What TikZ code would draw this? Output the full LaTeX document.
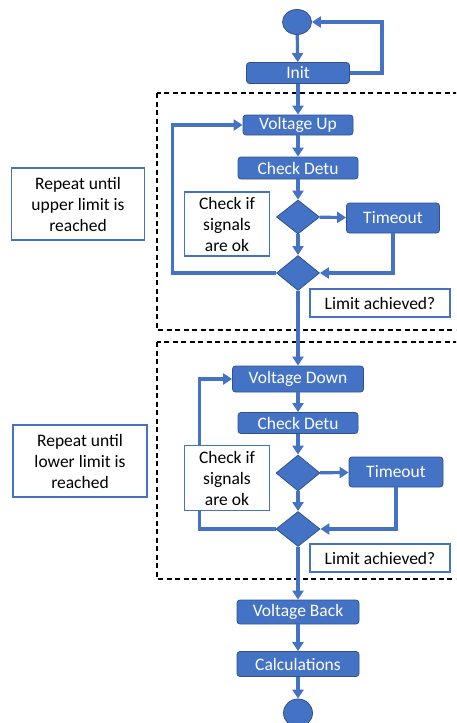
\documentclass[tikz,border=0pt]{standalone}
\usepackage{fontspec}
\setmainfont{Carlito}
\usetikzlibrary{arrows.meta,shapes.geometric,positioning}
\definecolor{officeblue}{HTML}{4472C4}
\definecolor{darkblue}{HTML}{2F528F}

\begin{document}
\begin{tikzpicture}[x=1pt,y=-1pt,>={Triangle[length=9pt,width=11pt]},font=\fontsize{17.5}{21}\selectfont]
	\tikzstyle{blk}=[draw=darkblue, line width=0.8pt, fill=officeblue, rounded corners=3pt, text=white, inner sep=0pt]
	\tikzstyle{dec}=[diamond, draw=darkblue, line width=0.8pt, fill=officeblue, inner sep=0pt]
	\tikzstyle{term}=[ellipse, draw=darkblue, line width=0.8pt, fill=officeblue, inner sep=0pt]
	\tikzstyle{note}=[draw=officeblue, line width=1.3pt, fill=white, align=center, inner sep=0pt]
	\tikzstyle{flow}=[->, draw=officeblue, line width=3.2pt]
	\tikzstyle{frame}=[draw=black, line width=1.3pt, dash pattern=on 5pt off 3.5pt]
	\useasboundingbox (0,0) rectangle (456,723);
	\clip (0,0) rectangle (456,723);
	% dashed frames
	\draw[frame] (157,93) rectangle (470,330);
	\draw[frame] (157,342) rectangle (470,579);
	% main column
	\node[term] (start) at (297,22) [minimum width=29pt, minimum height=25pt] {};
	\node[blk] (init) at (298,73) [minimum width=103pt, minimum height=21pt] {Init};
	\node[blk] (vup) at (298,125) [minimum width=110pt, minimum height=20pt] {Voltage Up};
	\node[blk] (chk1) at (298,168) [minimum width=120pt, minimum height=22pt] {Check Detu};
	\node[dec] (dA) at (298,217) [minimum width=43pt, minimum height=34pt] {};
	\node[blk] (to1) at (393,218) [minimum width=93pt, minimum height=30pt] {Timeout};
	\node[dec] (dB) at (298,273) [minimum width=43pt, minimum height=35pt] {};
	\node[blk] (vdown) at (298,379) [minimum width=131pt, minimum height=26pt] {Voltage Down};
	\node[blk] (chk2) at (298,423) [minimum width=120pt, minimum height=21pt] {Check Detu};
	\node[dec] (dC) at (298,473) [minimum width=44pt, minimum height=36pt] {};
	\node[blk] (to2) at (396,472) [minimum width=94pt, minimum height=30pt] {Timeout};
	\node[dec] (dD) at (298,529) [minimum width=44pt, minimum height=35pt] {};
	\node[blk] (vback) at (298,612) [minimum width=122pt, minimum height=24pt] {Voltage Back};
	\node[blk] (calc) at (298,664) [minimum width=122pt, minimum height=25pt] {Calculations};
	\node[term] (stop) at (298,713) [minimum width=29pt, minimum height=28pt] {};
	% connectors
	\draw[flow] (start) -- (init);
	\draw[flow] (init.east) -- ++(32,0) |- (start.east);
	\draw[flow] (init) -- (vup);
	\draw[flow] (vup) -- (chk1);
	\draw[flow] (chk1) -- (dA);
	\draw[flow] (dA) -- (to1);
	\draw[flow] (dA) -- (dB);
	\draw[flow] (to1.south) |- (dB.east);
	\draw[flow] (dB.west) -- ++(-104,0) |- (vup.west);
	\draw[flow] (dB) -- (vdown);
	\draw[flow] (vdown) -- (chk2);
	\draw[flow] (chk2) -- (dC);
	\draw[flow] (dC) -- (to2);
	\draw[flow] (dC) -- (dD);
	\draw[flow] (to2.south) |- (dD.east);
	\draw[flow] (dD.west) -- ++(-76,0) |- (vdown.west);
	\draw[flow] (dD) -- (vback);
	\draw[flow] (vback) -- (calc);
	\draw[flow] (calc) -- (stop);
	% notes
	\node[note] (sig1) at (227,224) [minimum width=85pt, minimum height=64pt] {Check if\\signals\\are ok};
	\node[note] (lim1) at (380,303) [minimum width=140pt, minimum height=28pt] {Limit achieved?};
	\node[note] (rep1) at (78,204) [minimum width=133pt, minimum height=72pt] {Repeat until\\upper limit is\\reached};
	\node[note] (sig2) at (227,478) [minimum width=85pt, minimum height=65pt] {Check if\\signals\\are ok};
	\node[note] (lim2) at (380,558) [minimum width=140pt, minimum height=28pt] {Limit achieved?};
	\node[note] (rep2) at (80,461) [minimum width=134pt, minimum height=72pt] {Repeat until\\lower limit is\\reached};
\end{tikzpicture}
\end{document}
